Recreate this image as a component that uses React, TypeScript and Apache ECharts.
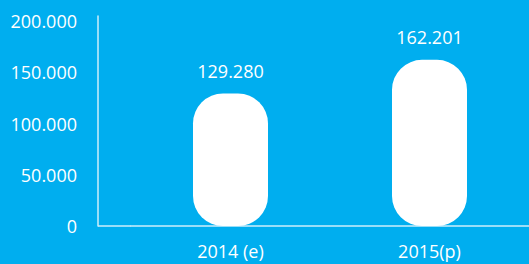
import React, { useEffect, useRef } from "react";
import * as echarts from "echarts";

const categories = ["2014 (e)", "2015(p)"];
const values = [129280, 162201];
const yTicks = [0, 50000, 100000, 150000, 200000];

const BG = "#00AEEF";
const FONT = "Open Sans";
const FS = 18;
const GRID_LEFT = 131;
const GRID_TOP = 16;
const GRID_BOTTOM = 38;
const AXIS_X = 98;
const W = 529;
const H = 264;

const fmt = (v: number) => {
  const s = Math.round(v).toString();
  return s.replace(/\B(?=(\d{3})+(?!\d))/g, ".");
};

export default function App() {
  const ref = useRef<HTMLDivElement>(null);
  useEffect(() => {
    if (!ref.current) return;
    const chart = echarts.init(ref.current, undefined, { renderer: "svg" });
    const yMax = 205000;
    chart.setOption({
      animation: false,
      backgroundColor: BG,
      textStyle: { fontFamily: FONT },
      grid: { left: GRID_LEFT, right: 0, top: GRID_TOP, bottom: GRID_BOTTOM },
      xAxis: {
        type: "category",
        data: categories,
        axisLine: { show: true, lineStyle: { color: "#cdeefb", width: 1.5 } },
        axisTick: { show: false },
        axisLabel: { color: "#ffffff", fontSize: FS, fontFamily: FONT, margin: 16 },
      },
      yAxis: {
        type: "value",
        min: yTicks[0],
        max: yMax,
        interval: yTicks[1] - yTicks[0],
        offset: GRID_LEFT - AXIS_X,
        splitLine: { show: false },
        axisTick: { show: false },
        axisLine: { show: true, lineStyle: { color: "#cdeefb", width: 1.5 } },
        axisLabel: {
          color: "#ffffff",
          fontSize: FS,
          fontFamily: FONT,
          margin: 21,
          showMaxLabel: false,
          formatter: (v: number) => (yTicks.includes(v) ? fmt(v) : ""),
        },
      },
      graphic: [
        {
          type: "line",
          shape: { x1: AXIS_X, y1: H - GRID_BOTTOM, x2: GRID_LEFT, y2: H - GRID_BOTTOM },
          style: { stroke: "#cdeefb", lineWidth: 1.5 },
        },
      ],
      series: [
        {
          type: "bar",
          data: values,
          barWidth: 75,
          itemStyle: { color: "#ffffff", borderRadius: 30 },
          label: {
            show: true,
            position: "top",
            distance: 14,
            color: "#ffffff",
            fontSize: FS,
            fontFamily: FONT,
            formatter: (p: any) => fmt(p.value),
          },
        },
      ],
    });
    return () => chart.dispose();
  }, []);
  return (
    <div
      ref={ref}
      style={{ position: "fixed", left: 0, top: 0, width: W, height: H, background: BG }}
    />
  );
}
